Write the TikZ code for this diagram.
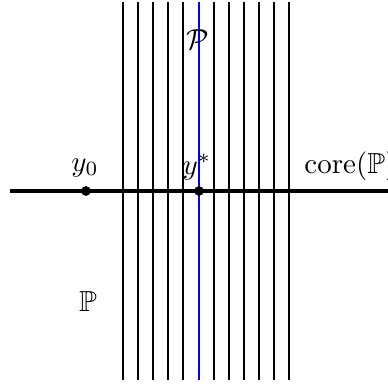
\documentclass[tikz,border=0pt]{standalone}
\usepackage{amssymb}
\begin{document}
\begin{tikzpicture}[x=0.39pt,y=-0.39pt,
  vline/.style={line width=1.05pt,black},
  bline/.style={line width=1.05pt,blue},
  hline/.style={line width=1.6pt,black},
  dot/.style={circle,fill=black,inner sep=0pt,minimum size=3.8pt},
  lbl/.style={inner sep=1pt,scale=1.13}]
\useasboundingbox (0,0) rectangle (388,385);
\foreach \x in {123,138,153,168,183,214,229,244,259,274,289}
  \draw[vline] (\x,2) -- (\x,380);
\draw[bline] (199,2) -- (199,380);
\coordinate (L) at (10,191);
\coordinate (R) at (400,191);
\draw[hline] (L) -- (R);
\node[dot] (y0) at (86,191) {};
\node[dot] (ys) at (199,191) {};
\node[lbl] (ly0) at (85,168) {$y_0$};
\node[lbl] (lys) at (197,167) {$y^*$};
\node[lbl,anchor=west] (core) at (301,166) {$\mathrm{core}(\mathbb{P})$};
\node[lbl] (P) at (88,302) {$\mathbb{P}$};
\node[lbl] (cP) at (198,40) {$\mathcal{P}$};
\end{tikzpicture}
\end{document}
